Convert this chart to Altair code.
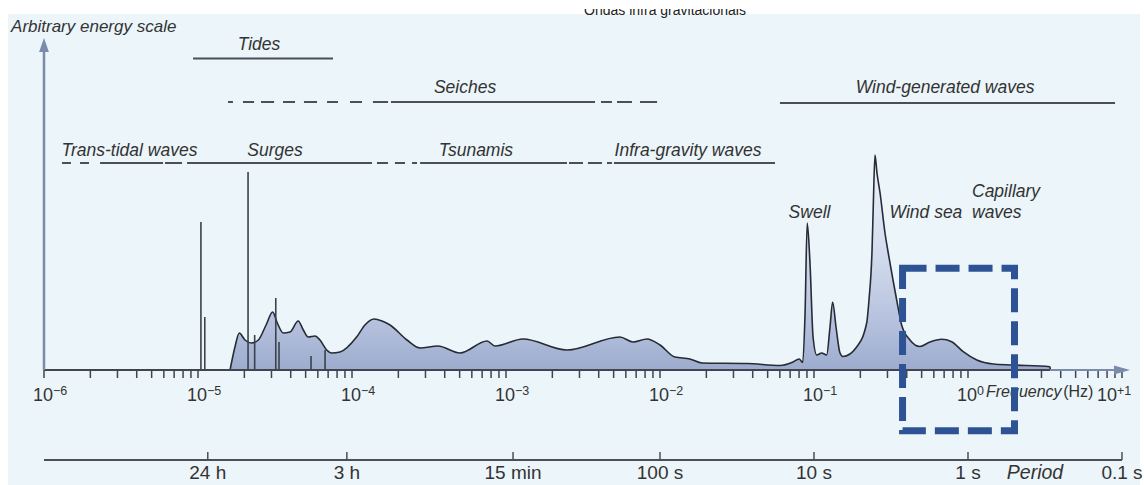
import altair as alt
import pandas as pd

# ---------------- data ----------------
# energy spectrum: log10(frequency / Hz) and arbitrary energy
curve_logf = [-4.792, -4.760, -4.732, -4.695, -4.651, -4.608, -4.558, -4.515, -4.485, -4.446,
              -4.403, -4.349, -4.316, -4.284, -4.240, -4.208, -4.164, -4.132, -4.078, -3.970,
              -3.916, -3.857, -3.805, -3.753, -3.643, -3.558, -3.442, -3.299, -3.123, -3.071,
              -2.890, -2.604, -2.260, -2.175, -2.084, -2.000, -1.903, -1.805, -1.727, -1.435,
              -1.221, -1.136, -1.097, -1.073, -1.058, -1.044, -1.026, -1.006, -0.982, -0.950,
              -0.918, -0.896, -0.879, -0.857, -0.831, -0.812, -0.723, -0.658, -0.643, -0.623,
              -0.614, -0.604, -0.591, -0.571, -0.539, -0.519, -0.487, -0.463, -0.431, -0.377,
              -0.312, -0.247, -0.171, -0.106, -0.031, 0.057, 0.164, 0.292, 0.532, 0.535]
curve_energy = [0, 23, 37, 30, 27, 30, 45, 58, 47, 37,
                38, 49, 40, 33, 34, 30, 20, 17, 18, 33,
                45, 51, 49, 45, 30, 22, 24, 17, 29, 24,
                31, 20, 33, 28, 31, 25, 13, 11, 7, 6.5,
                4.5, 8, 11, 7.5, 57, 147, 107, 33, 15, 17,
                15, 43, 68, 43, 17, 13.5, 23, 47, 70, 120,
                170, 215, 197, 177, 137, 118, 90, 70, 45, 30,
                23.5, 28, 30.7, 28.3, 18.3, 10, 6, 5, 3.3, 0]

# tidal lines
tide_line_logf = [-4.981, -4.956, -4.675, -4.632, -4.495, -4.474, -4.266, -4.175]
tide_line_energy = [148, 53, 198, 35, 72, 28, 14, 20]

# frequency axis: decades and their labels (base "10" + exponent)
decade_exponents = [-6, -5, -4, -3, -2, -1, 0, 1]
decade_base = ["10"] * 8
decade_exp_labels = ["−6", "−5", "−4", "−3", "−2", "−1", "0", "+1"]
minor_multipliers = [1, 2, 3, 4, 5, 6, 7, 8, 9]

# period axis
period_seconds = [86400, 10800, 900, 100, 10, 1, 0.1]
period_labels = ["24 h", "3 h", "15 min", "100 s", "10 s", "1 s", "0.1 s"]

# range bars (log10 f start, log10 f end)
tides_lo = [-5.032]
tides_hi = [-4.123]
seiches_lo = [-4.805, -4.708, -4.591, -4.448, -4.312, -4.162, -4.013, -3.864, -3.747, -2.383, -2.279, -2.130]
seiches_hi = [-4.773, -4.636, -4.506, -4.370, -4.227, -4.091, -3.935, -3.766, -2.422, -2.312, -2.182, -2.019]
wind_lo = [-1.221]
wind_hi = [0.955]
short_lo = [-5.883, -5.766, -5.636, -5.214, -5.071, -3.838, -3.721, -3.610, -3.558, -2.591, -2.468, -2.344, -2.299]
short_hi = [-5.825, -5.708, -5.227, -5.104, -3.870, -3.766, -3.656, -3.578, -2.604, -2.500, -2.377, -2.312, -1.253]
row_energy = {"tides": 311.5, "seiches": 268, "wind": 267, "short": 207}

# phenomenon labels
label_text = ["Tides", "Seiches", "Wind-generated waves", "Trans-tidal waves", "Surges",
              "Tsunamis", "Infra-gravity waves", "Swell", "Wind sea"]
label_logf = [-4.604, -3.266, -0.149, -5.445, -4.500, -3.195, -1.818, -1.029, -0.273]
label_energy = [320, 277, 277, 214.5, 214.5, 214.5, 214.5, 152.5, 152.5]
cap_text = ["Capillary", "waves"]
cap_logf = [0.026, 0.026]
cap_energy = [173, 152.5]

# highlighted box (log10 f range, energy range)
box_logf = [-0.425, 0.302]
box_energy = [101.7, -60.7]

# ---------------- styling ----------------
FONT = "Liberation Sans"
TXT = "#333333"
DARK = "#40454f"
AXBLUE = "#7B8BAA"
BG = "#EBF5FA"

xs = alt.Scale(type="log", domain=[1e-6, 10 ** 1.052], nice=False)
ys = alt.Scale(domain=[0, 370], nice=False, zero=False)


def X(field):
    return alt.X(field, type="quantitative", scale=xs, axis=None)


def Y(field):
    return alt.Y(field, type="quantitative", scale=ys, axis=None)


one = pd.DataFrame({"k": [0]})

curve = pd.DataFrame({"f": [10 ** v for v in curve_logf], "E": curve_energy})
spikes = pd.DataFrame({"f": [10 ** v for v in tide_line_logf], "E": tide_line_energy,
                       "base": [0] * len(tide_line_logf)})

segs = []
for name, los, his in [("tides", tides_lo, tides_hi), ("seiches", seiches_lo, seiches_hi),
                       ("wind", wind_lo, wind_hi), ("short", short_lo, short_hi)]:
    for a, b in zip(los, his):
        segs.append({"lo": 10 ** a, "hi": 10 ** b, "E": row_energy[name]})
segs = pd.DataFrame(segs)

labels = pd.DataFrame({"f": [10 ** v for v in label_logf], "E": label_energy, "t": label_text})
caps = pd.DataFrame({"f": [10 ** v for v in cap_logf], "E": cap_energy, "t": cap_text})

periods = pd.DataFrame({"f": [1.0 / p for p in period_seconds], "t": period_labels,
                        "E": [-109] * len(period_seconds), "a": [-90] * len(period_seconds),
                        "b": [-82] * len(period_seconds)})

ticks = pd.DataFrame({"f": [m * 10.0 ** d for d in decade_exponents for m in minor_multipliers
                            if m * 10.0 ** d <= 11]})
ticks["a"] = 0
ticks["b"] = -8
dec = pd.DataFrame({"f": [10.0 ** d for d in decade_exponents], "base": decade_base,
                    "exp": decade_exp_labels})
dec["E"] = -31
dec["Ee"] = -25
dec_main = dec[dec["f"] < 5]
dec_last = dec[dec["f"] > 5]

gradient = alt.Gradient(
    gradient="linear",
    stops=[alt.GradientStop(color="#9DACCE", offset=0),
           alt.GradientStop(color="#B3BFDC", offset=0.2),
           alt.GradientStop(color="#D3DCEE", offset=0.55),
           alt.GradientStop(color="#EFF4FB", offset=1)],
    x1=0, x2=0, y1=1, y2=0)

# ---------------- layers ----------------
white_top = alt.Chart(one).mark_rect(color="white").encode(
    x=alt.value(-44), x2=alt.value(1100), y=alt.value(0), y2=alt.value(14))
white_left = alt.Chart(one).mark_rect(color="white").encode(
    x=alt.value(-44), x2=alt.value(-36), y=alt.value(0), y2=alt.value(485))
white_right = alt.Chart(one).mark_rect(color="white").encode(
    x=alt.value(1096), x2=alt.value(1100), y=alt.value(0), y2=alt.value(485))

area = alt.Chart(curve).mark_area(interpolate="monotone", fill=gradient).encode(
    x=X("f"), y=Y("E"))
outline = alt.Chart(curve).mark_line(interpolate="monotone", color="#262b36", strokeWidth=1.6).encode(
    x=X("f"), y=Y("E"))

tick_rules = alt.Chart(ticks).mark_rule(color=DARK, strokeWidth=1.5).encode(
    x=X("f"), y=Y("a"), y2="b:Q")


def dec_layers(df, dx_base):
    base = alt.Chart(df).mark_text(
        font=FONT, fontSize=18, color=TXT, align="center", baseline="alphabetic", dx=dx_base).encode(
        x=X("f"), y=Y("E"), text="base:N")
    exp = alt.Chart(df).mark_text(
        font=FONT, fontSize=12.5, color=TXT, align="left", baseline="alphabetic", dx=dx_base + 10).encode(
        x=X("f"), y=Y("Ee"), text="exp:N")
    return [base, exp]


dec_text = dec_layers(dec_main, -1) + dec_layers(dec_last, -15)

base_dark = alt.Chart(pd.DataFrame({"lo": [1e-6], "hi": [10 ** 0.532], "E": [0]})).mark_rule(
    color=DARK, strokeWidth=1.8).encode(x=X("lo"), x2="hi:Q", y=Y("E"))
base_blue = alt.Chart(pd.DataFrame({"lo": [10 ** 0.532], "hi": [10 ** 1.0], "E": [0]})).mark_rule(
    color=AXBLUE, strokeWidth=2).encode(x=X("lo"), x2="hi:Q", y=Y("E"))
x_arrow = alt.Chart(pd.DataFrame({"f": [10 ** 1.0], "E": [0]})).mark_point(
    shape="M1,0L-1,-0.55L-1,0.55Z", filled=True, size=256, color=AXBLUE, opacity=1).encode(
    x=X("f"), y=Y("E"))

y_line = alt.Chart(pd.DataFrame({"f": [1e-6], "a": [0], "b": [325]})).mark_rule(
    color=AXBLUE, strokeWidth=2.5).encode(x=X("f"), y=Y("a"), y2="b:Q")
y_arrow = alt.Chart(pd.DataFrame({"f": [1e-6], "E": [325]})).mark_point(
    shape="M0,-1L-0.7,1L0.7,1Z", filled=True, size=196, color=AXBLUE, opacity=1).encode(
    x=X("f"), y=Y("E"))

spike_rules = alt.Chart(spikes).mark_rule(color="#3c414b", strokeWidth=1.6).encode(
    x=X("f"), y=Y("base"), y2="E:Q")

range_rules = alt.Chart(segs).mark_rule(color="#4b5058", strokeWidth=2).encode(
    x=X("lo"), x2="hi:Q", y=Y("E"))

label_layer = alt.Chart(labels).mark_text(
    font=FONT, fontSize=17.5, fontStyle="italic", color=TXT, align="center",
    baseline="alphabetic").encode(x=X("f"), y=Y("E"), text="t:N")
cap_layer = alt.Chart(caps).mark_text(
    font=FONT, fontSize=17.5, fontStyle="italic", color=TXT, align="left",
    baseline="alphabetic").encode(x=X("f"), y=Y("E"), text="t:N")

y_title = alt.Chart(pd.DataFrame({"f": [10 ** -6.214], "E": [338], "t": ["Arbitrary energy scale"]})).mark_text(
    font=FONT, fontSize=17, fontStyle="italic", color=TXT, align="left", baseline="alphabetic").encode(
    x=X("f"), y=Y("E"), text="t:N")

freq_title = alt.Chart(pd.DataFrame({"f": [10 ** 0.117], "E": [-27], "t": ["Frequency"]})).mark_text(
    font=FONT, fontSize=16, fontStyle="italic", color=TXT, align="left", baseline="alphabetic").encode(
    x=X("f"), y=Y("E"), text="t:N")
hz_title = alt.Chart(pd.DataFrame({"f": [10 ** 0.618], "E": [-27], "t": ["(Hz)"]})).mark_text(
    font=FONT, fontSize=16, color=TXT, align="left", baseline="alphabetic").encode(
    x=X("f"), y=Y("E"), text="t:N")

period_line = alt.Chart(pd.DataFrame({"lo": [1e-6], "hi": [10.0], "E": [-90]})).mark_rule(
    color="#4b5058", strokeWidth=1.8).encode(x=X("lo"), x2="hi:Q", y=Y("E"))
period_ticks = alt.Chart(periods).mark_rule(color="#4b5058", strokeWidth=1.5).encode(
    x=X("f"), y=Y("a"), y2="b:Q")
period_text = alt.Chart(periods).mark_text(
    font=FONT, fontSize=19, color=TXT, align="center", baseline="alphabetic").encode(
    x=X("f"), y=Y("E"), text="t:N")
period_title = alt.Chart(pd.DataFrame({"f": [10 ** 0.435], "E": [-109], "t": ["Period"]})).mark_text(
    font=FONT, fontSize=19.5, fontStyle="italic", color=TXT, align="center", baseline="alphabetic").encode(
    x=X("f"), y=Y("E"), text="t:N")

ondas = alt.Chart(pd.DataFrame({"t": ["Ondas infra gravitacionais"]})).mark_text(
    font=FONT, fontSize=14, color="#222222", align="center", baseline="alphabetic").encode(
    x=alt.value(621), y=alt.value(15), text="t:N")
ondas_cover = alt.Chart(one).mark_rect(color="white").encode(
    x=alt.value(-44), x2=alt.value(1100), y=alt.value(0), y2=alt.value(9))

box = alt.Chart(pd.DataFrame({"lo": [10 ** box_logf[0]], "hi": [10 ** box_logf[1]],
                              "top": [box_energy[0]], "bot": [box_energy[1]]})).mark_rect(
    filled=False, stroke="#2E5395", strokeWidth=7, strokeDash=[24, 9]).encode(
    x=X("lo"), x2="hi:Q", y=Y("top"), y2="bot:Q")

chart = alt.layer(
    white_top, white_left, white_right, area, outline, spike_rules, tick_rules, base_dark, base_blue,
    x_arrow, *dec_text,
    y_line, y_arrow, range_rules, label_layer, cap_layer, y_title, freq_title, hz_title,
    period_line, period_ticks, period_text, period_title, ondas, ondas_cover, box
).properties(
    width=1086, height=370,
    padding={"left": 44, "top": 0, "right": 14, "bottom": 115},
    autosize=alt.AutoSizeParams(type="none"),
    background=BG,
).configure_view(stroke=None)

chart.save("out.html", embed_options={"renderer": "svg", "actions": False})
